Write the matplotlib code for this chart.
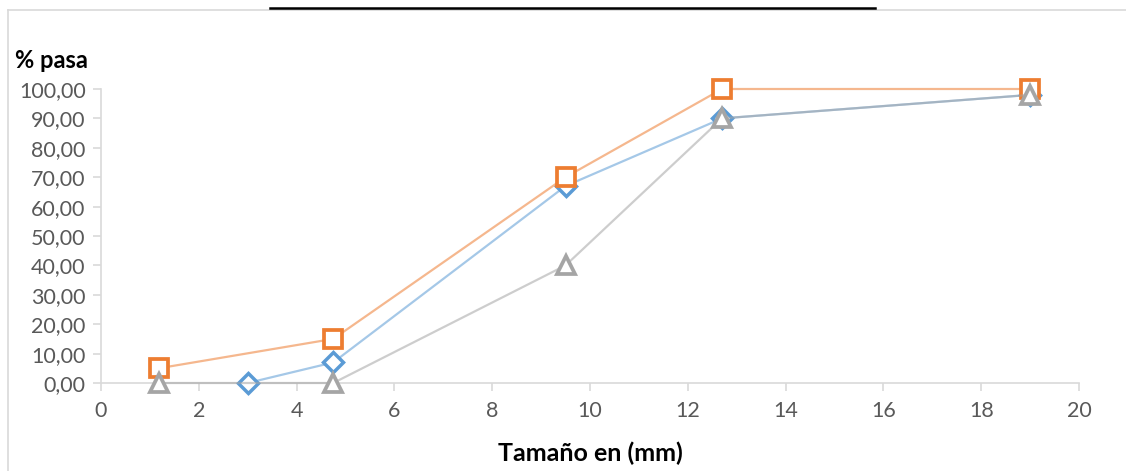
import matplotlib.pyplot as plt
from matplotlib.lines import Line2D

# datos de granulometria
tamano_azul = [3.0, 4.75, 9.5, 12.7, 19.0]
pasa_azul = [0.0, 7.0, 67.0, 90.0, 98.0]

tamano_naranja = [1.18, 4.75, 9.5, 12.7, 19.0]
pasa_naranja = [5.0, 15.0, 70.0, 100.0, 100.0]

tamano_gris = [1.18, 4.75, 9.5, 12.7, 19.0]
pasa_gris = [0.0, 0.0, 40.0, 90.0, 98.0]

x_ticks = [0, 2, 4, 6, 8, 10, 12, 14, 16, 18, 20]
y_ticks = [0, 10, 20, 30, 40, 50, 60, 70, 80, 90, 100]

plt.rcParams['font.family'] = ['Lato', 'DejaVu Sans']


def main():
    fig = plt.figure(figsize=(11.26, 4.71), dpi=100)
    ax = fig.add_axes([101 / 1126, 88 / 471, 978 / 1126, 294 / 471])

    # azul
    ax.plot(tamano_azul, pasa_azul, color='#5B9BD5', alpha=0.55, lw=1.6, zorder=2,
            clip_on=False)
    ax.plot(tamano_azul, pasa_azul, ls='none', marker='D', ms=10, mfc='white',
            mec='#5B9BD5', mew=2.5, zorder=3, clip_on=False)
    # naranja
    ax.plot(tamano_naranja, pasa_naranja, color='#ED7D31', alpha=0.55, lw=1.6, zorder=4,
            clip_on=False)
    ax.plot(tamano_naranja, pasa_naranja, ls='none', marker='s', ms=13, mfc='white',
            mec='#ED7D31', mew=2.7, zorder=5, clip_on=False)
    # gris
    ax.plot(tamano_gris, pasa_gris, color='#A5A5A5', alpha=0.55, lw=1.6, zorder=6,
            clip_on=False)
    ax.plot(tamano_gris, pasa_gris, ls='none', marker='^', ms=13, mfc='white',
            mec='#A5A5A5', mew=2.7, zorder=7, clip_on=False)

    ax.set_xlim(0, 20)
    ax.set_ylim(0, 100)
    ax.set_xticks(x_ticks)
    ax.set_yticks(y_ticks)
    ax.set_yticklabels([f'{v:.2f}'.replace('.', ',') for v in y_ticks])
    ax.tick_params(axis='both', colors='#D9D9D9', labelcolor='#595959',
                   labelsize=15.5, length=6, width=1.2, direction='out')
    ax.tick_params(axis='x', pad=7)
    ax.tick_params(axis='y', pad=5)

    for s in ['top', 'right']:
        ax.spines[s].set_visible(False)
    for s in ['left', 'bottom']:
        ax.spines[s].set_color('#D9D9D9')
        ax.spines[s].set_linewidth(1.2)
    ax.margins(0)

    fig.text(15 / 1126, 1 - 60 / 471, '% pasa', fontsize=17, fontweight='bold',
             va='center', ha='left')
    fig.text(590 / 1126, 1 - 453 / 471, 'Tamaño en (mm)', fontsize=18,
             fontweight='bold', va='center', ha='center')

    # borde del grafico y linea negra de arriba
    fig.add_artist(Line2D([8 / 1126, 1], [1 - 10 / 471, 1 - 10 / 471],
                          transform=fig.transFigure, color='#D9D9D9', lw=1.2))
    fig.add_artist(Line2D([8 / 1126, 8 / 1126], [0, 1 - 10 / 471],
                          transform=fig.transFigure, color='#D9D9D9', lw=1.2))
    fig.add_artist(Line2D([270 / 1126, 875 / 1126], [1 - 8 / 471, 1 - 8 / 471],
                          transform=fig.transFigure, color='black', lw=1.8))

    fig.savefig('out.png', dpi=100)


if __name__ == "__main__":
    main()
